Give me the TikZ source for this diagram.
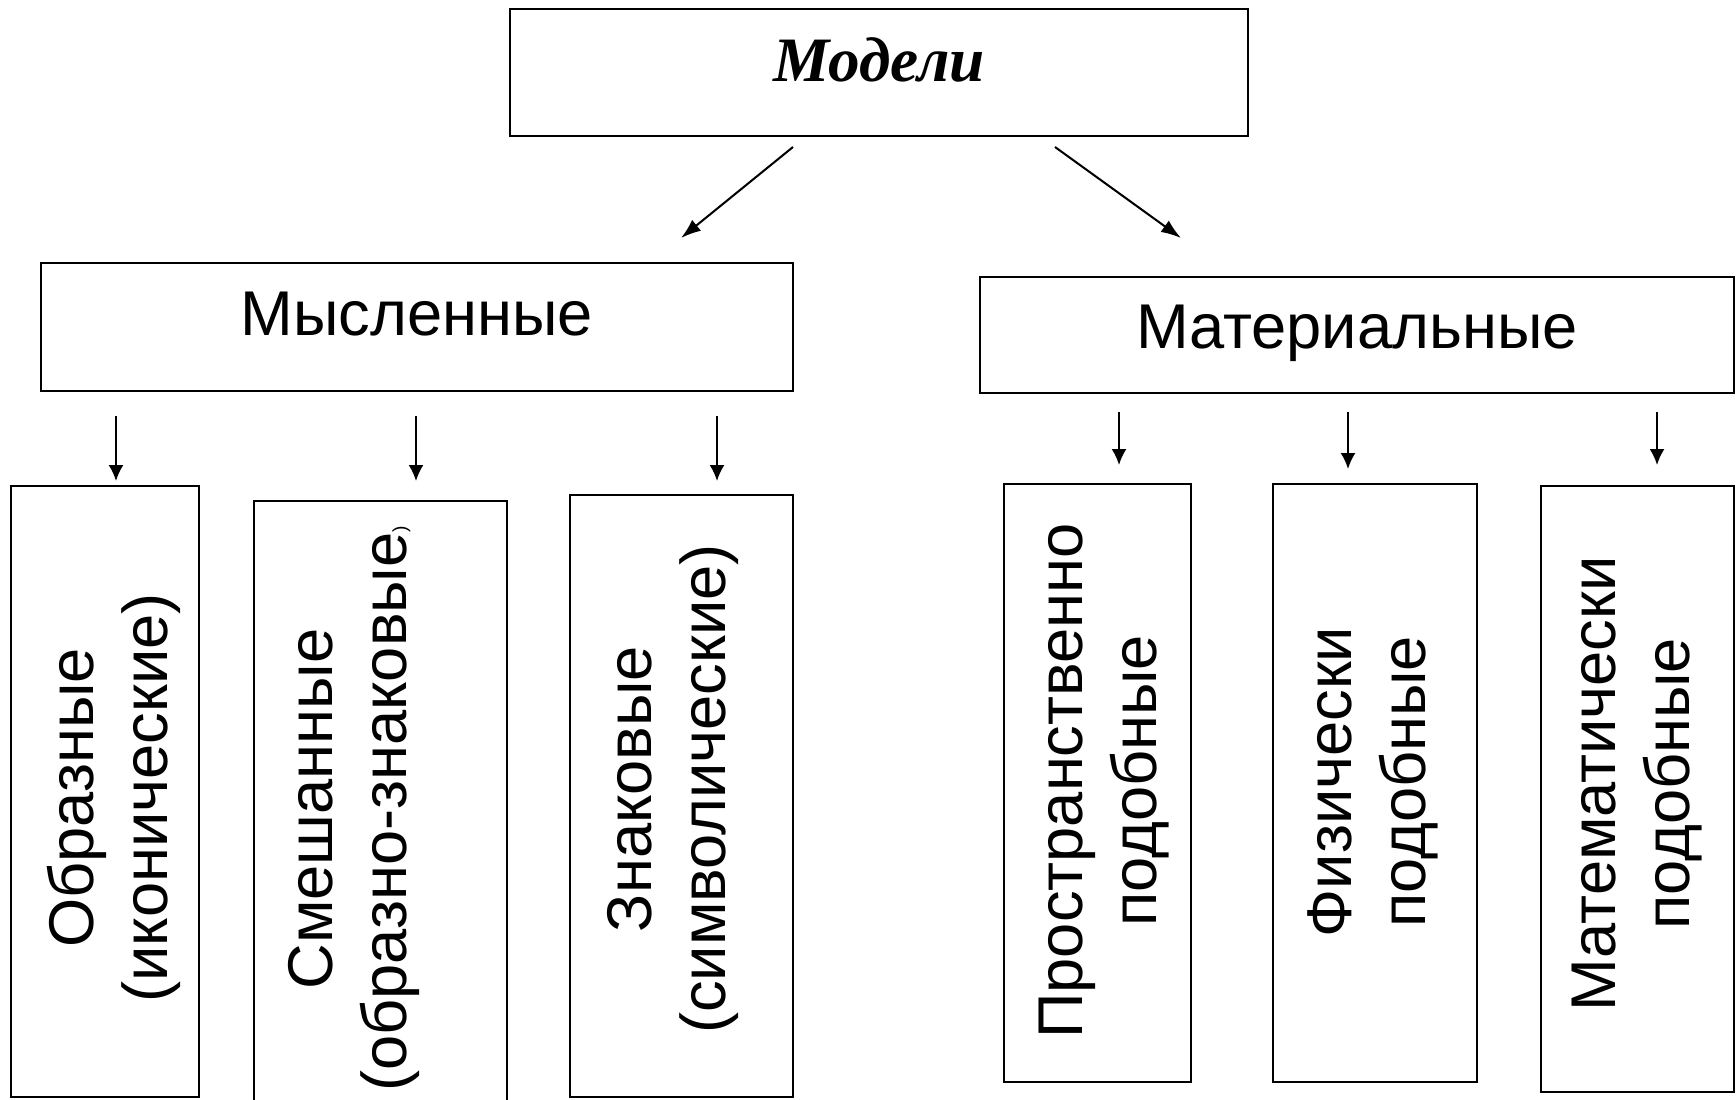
\documentclass[tikz,border=0pt]{standalone}
\usepackage{fontspec}
\setmainfont{Liberation Sans}
\newfontfamily\titlefont{Liberation Serif}
\usetikzlibrary{arrows.meta}

\newcommand{\bigtext}{\fontsize{36}{42}\selectfont}

\tikzset{
  box/.style={draw, line width=1.1pt, inner sep=0pt, anchor=north, font=\bigtext},
  leaf/.style={draw, line width=1.1pt, inner sep=0pt, anchor=north},
  vlabel/.style={rotate=90, align=center, font=\bigtext, inner sep=0pt},
  arr/.style={line width=1.15pt, -{Latex[length=0.32cm,width=0.3cm]}},
  diagarr/.style={line width=1.15pt, -{Latex[length=0.4cm,width=0.28cm]}}
}

\begin{document}
\begin{tikzpicture}[x=0.02cm, y=-0.02cm]
\useasboundingbox (0,0) rectangle (1736,1099);
\clip (0,0) rectangle (1736,1099);

% Top box
\node[box, minimum width=14.76cm, text height=1.46cm, text depth=1.08cm,
  font=\titlefont\bfseries\itshape\bigtext] (models) at (879,8) {Модели};

% Second level
\node[box, minimum width=15.04cm, text height=1.46cm, text depth=1.10cm] (mental) at (417,262) {Мысленные};
\node[box, minimum width=15.08cm, text height=1.44cm, text depth=0.88cm] (material) at (1357,276) {Материальные};

% Arrows from the top box
\coordinate (ml) at (793,147);
\coordinate (mlend) at (681,238);
\coordinate (mr) at (1055,147);
\coordinate (mrend) at (1181,238);
\draw[diagarr] (ml) -- (mlend);
\draw[diagarr] (mr) -- (mrend);

% Leaves of the left branch
\node[leaf, minimum width=3.76cm, minimum height=12.22cm] (figur) at (105,485) {};
\node[leaf, minimum width=5.06cm, minimum height=12.4cm] (mixed) at (380.5,500) {};
\node[leaf, minimum width=4.46cm, minimum height=12.04cm] (sign) at (681.5,494) {};

% Leaves of the right branch
\node[leaf, minimum width=3.74cm, minimum height=11.96cm] (spatial) at (1097.5,483) {};
\node[leaf, minimum width=4.08cm, minimum height=11.96cm] (physical) at (1375,483) {};
\node[leaf, minimum width=3.86cm, minimum height=12.12cm] (maths) at (1637.5,485) {};

% Vertical labels
\node[vlabel] (figurt) at (114,798) {Образные\\(иконические)};
\node[vlabel] (mixedt) at (354,809) {Смешанные\\(образно-знаковые{\fontsize{11}{11}\selectfont)}};
\node[vlabel] (signt) at (673,789) {Знаковые\\(символические)};
\node[vlabel] (spatialt) at (1104,781) {Пространственно\\подобные};
\node[vlabel] (physicalt) at (1373,782) {Физически\\подобные};
\node[vlabel] (mathst) at (1637,784) {Математически\\подобные};

% Short arrows down
\foreach \i/\x/\a/\b in {1/116/416/481, 2/416/416/481, 3/717/416/481,
                         4/1119/412/465, 5/1348/412/469, 6/1657/412/465} {
  \coordinate (d\i) at (\x,\a);
  \coordinate (d\i end) at (\x,\b);
  \draw[arr] (d\i) -- (d\i end);
}
\end{tikzpicture}
\end{document}
